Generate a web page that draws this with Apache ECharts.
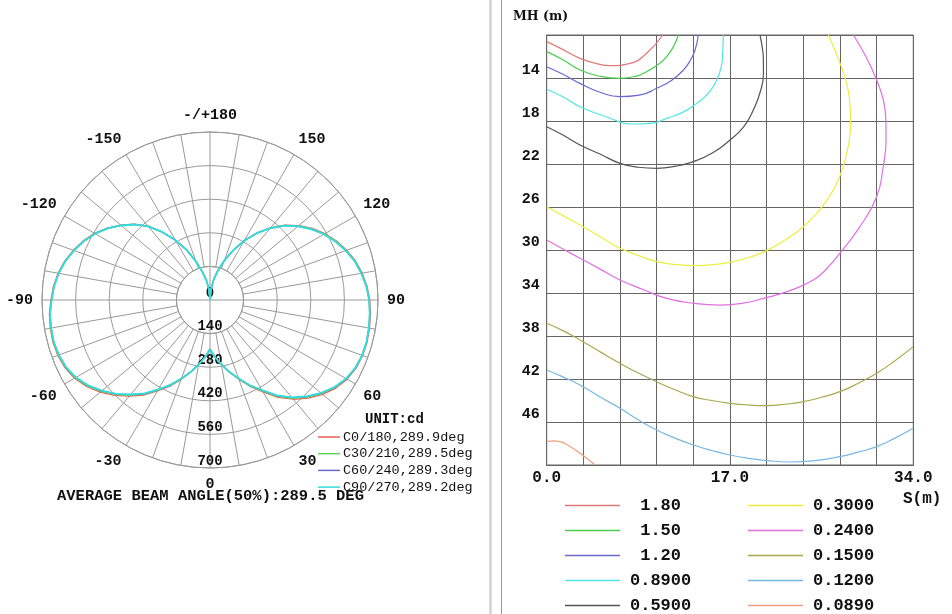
<!DOCTYPE html>
<html>
<head>
<meta charset="utf-8">
<script src="https://cdn.jsdelivr.net/npm/echarts@6/dist/echarts.min.js"></script>
<style>html,body{margin:0;padding:0;background:#fff;}#c{width:952px;height:614px;}</style>
</head>
<body>
<div id="c"></div>
<script>
// ---------- Polar (intensity distribution, cd) ----------
const POLAR_NAMES = ['C0/180,289.9deg', 'C30/210,289.5deg', 'C60/240,289.3deg', 'C90/270,289.2deg'];
// sample angles 0..360 step 5 (0 = nadir, 90 right, 180 top, 270 = -90 left)
const ANGLES = Array.from({length: 73}, (_, i) => i * 5);
const C0 = [203,238,270,312,352,398,442,495,540,578,612,640,660,672,677,678,675,671,666,657,644,628,606,582,553,520,483,442,393,342,286,229,176,128,86,43,0,
            40,80,121,171,231,288,346,402,447,486,523,556,583,606,627,643,655,663,672,676,678,675,667,652,628,597,562,523,484,438,396,352,312,272,238,203];
const C30 = [204,239,271,311,349,395,437,490,535,573,607,636,657,670,675,676,673,669,664,655,642,626,604,580,551,518,481,440,392,341,285,228,175,127,85,42,0,
             40,80,120,170,230,287,345,401,446,484,521,554,581,604,625,641,653,661,670,674,676,672,664,648,624,592,557,518,479,434,392,350,311,273,239,204];
const C60 = [205,240,272,310,347,393,434,486,531,569,604,634,656,669,674,675,672,668,663,654,640,624,602,577,548,515,478,438,390,340,285,228,175,127,85,42,0,
             40,80,120,170,230,287,345,400,445,483,520,553,580,603,624,640,652,660,669,672,674,670,662,645,621,589,554,515,476,431,390,348,310,273,240,205];
const C90 = [205,240,272,310,347,392,433,485,530,568,603,633,655,668,674,675,672,668,663,654,640,624,602,577,548,515,478,438,390,340,285,228,175,127,85,42,0,
             40,80,120,170,230,287,345,400,445,483,520,553,580,603,624,640,652,660,669,672,674,670,662,645,620,588,553,514,475,430,390,348,310,273,240,205];
const POLAR_VALUES = [C0, C30, C60, C90];
const POLAR_COLORS = ['#e8604c', '#5cd65c', '#6a6ac8', '#33dddd'];
const RADIUS_TICKS = [0, 140, 280, 420, 560, 700];

// ---------- Isolux diagram ----------
const ISO_NAMES = ['1.80', '1.50', '1.20', '0.8900', '0.5900', '0.3000', '0.2400', '0.1500', '0.1200', '0.0890'];
const ISO_COLORS = ['#e07878', '#4ccc4c', '#6a6ad0', '#50e6e6', '#555555', '#eeee40', '#e070e0', '#a8a850', '#78b8e0', '#f0a080'];
const ISO_X = [
  [0,1.2,3.09,5.0,5.87,7.73,9.27,10.76],
  [0,1.5,3.09,5.0,6.8,8.2,9.27,10.4,11.13,11.8,12.21],
  [0,1.5,3.09,5,6.8,8.6,10.2,11.6,12.67,13.3,13.76,14.06],
  [0,1.5,3.09,5.5,8.04,9.8,11.13,12.6,13.9,15.0,15.77,16.2,16.32,16.38],
  [0,1.5,3.09,5.0,6.8,8.5,10.2,12.0,13.6,15.4,17.0,18.3,19.16,19.8,20.1,20.1,20.03,19.78],
  [0,1.5,3.09,5.0,6.8,8.5,10.2,12.0,13.9,15.6,17.3,18.9,20.4,22.2,23.8,25.3,26.58,27.3,27.82,28.1,28.19,28.1,27.82,27.2,26.12],
  [0,1.5,3.09,5.0,6.8,9.0,11.13,13.6,16.07,18.2,20.09,22.5,24.73,26.0,27.2,29.0,30.6,31.2,31.47,31.45,31.22,30.6,29.6,28.44],
  [0,1.5,3.09,5.0,6.8,8.5,10.2,11.9,13.6,15.3,17.0,18.7,20.4,22.1,23.8,25.5,27.2,28.9,30.6,32.3,34],
  [0,1.5,3.09,5.0,6.8,8.5,10.2,11.9,13.6,15.3,17.0,18.7,20.4,22.56,24.9,27.2,28.9,30.6,32.3,34],
  [0,0.6,1.24,2.2,3.09,3.8,4.48]
];
const ISO_Y = [
  [10.62,11.2,12.17,12.75,12.85,12.64,11.7,10.0],
  [11.55,12.3,13.26,13.85,14.03,13.85,13.41,12.7,12.02,11.0,10.0],
  [12.95,13.65,14.5,15.35,15.74,15.6,14.96,14.2,13.26,12.4,11.4,10.0],
  [15.05,15.75,16.67,17.6,18.28,18.2,17.75,17.2,16.36,15.4,14.19,12.9,11.7,10.0],
  [18.53,19.3,20.23,21.1,21.94,22.3,22.4,22.2,21.78,20.95,19.77,18.5,16.98,15.3,13.57,12.4,11.4,10.0],
  [25.97,26.8,27.67,28.8,29.84,30.5,31.08,31.35,31.45,31.35,31.08,30.65,30.06,29.0,27.83,26.3,24.42,22.8,21.0,19.5,17.9,16.2,14.5,12.6,10.0],
  [29.07,29.9,30.77,31.8,32.79,33.7,34.5,34.95,35.12,34.95,34.5,33.8,32.79,31.7,30.3,27.9,25.04,22.3,19.77,17.8,16.05,14.19,12.0,10.0],
  [36.82,37.5,38.37,39.5,40.54,41.45,42.25,43.0,43.64,44.0,44.26,44.42,44.48,44.35,44.1,43.7,43.18,42.4,41.47,40.3,38.99],
  [41.16,41.8,42.56,43.7,44.73,45.8,46.74,47.5,48.14,48.65,49.07,49.38,49.59,49.72,49.6,49.22,48.8,48.29,47.5,46.59],
  [47.83,47.75,47.83,48.3,48.91,49.45,50]
];
const X_MIN = 0, X_MAX = 34, X_STEP = 3.4;
const Y_MIN = 10, Y_MAX = 50, Y_STEP = 4;

// ---------- layout ----------
const PC = [210, 300], PR = 168;
const MONO = "'Liberation Mono', 'Courier New', monospace";
const GRID_GRAY = '#9a9a9a';

const chart = echarts.init(document.getElementById('c'), null, {renderer: 'canvas'});

const polarSeries = POLAR_NAMES.map((name, k) => ({
  name, type: 'line', coordinateSystem: 'polar', polarIndex: 0,
  symbol: 'none', smooth: false, z: 4,
  lineStyle: {color: POLAR_COLORS[k], width: k === 3 ? 1.8 : 1.2},
  itemStyle: {color: POLAR_COLORS[k]},
  data: POLAR_VALUES[k].map((r, i) => [r, ANGLES[i]])
}));

const isoSeries = ISO_NAMES.map((name, k) => ({
  name, type: 'line', xAxisIndex: 0, yAxisIndex: 0,
  symbol: 'none', smooth: true, z: 4,
  lineStyle: {color: ISO_COLORS[k], width: 1.2},
  itemStyle: {color: ISO_COLORS[k]},
  data: ISO_X[k].map((x, i) => [x, ISO_Y[k][i]])
}));

const angleLabel = v => {
  if (v % 30 !== 0 || v === 360) return '';
  if (v === 180) return '-/+180';
  return v < 180 ? String(v) : String(v - 360);
};

const isoLegend = (names, left, fmt) => ({
  data: names, orient: 'vertical', left, top: 497, height: 140, padding: 0,
  itemWidth: 55, itemHeight: 1.5, itemGap: 8, icon: 'rect', selectedMode: false,
  formatter: fmt,
  textStyle: {fontFamily: MONO, fontSize: 17, fontWeight: 'bold', color: '#111', lineHeight: 17, padding: [0, 0, 0, 5]}
});

const option = {
  backgroundColor: '#fff',
  animation: false,
  title: [
    {text: 'UNIT:cd', left: 365, top: 412, padding: 0,
     textStyle: {fontFamily: MONO, fontSize: 14, fontWeight: 'bold', color: '#111'}},
    {text: 'AVERAGE BEAM ANGLE(50%):289.5 DEG', left: 57, top: 488, padding: 0,
     textStyle: {fontFamily: MONO, fontSize: 15.5, fontWeight: 'bold', color: '#111'}},
    {text: 'MH (m)', left: 513, top: 10, padding: 0,
     textStyle: {fontFamily: "'DejaVu Serif', serif", fontSize: 12.5, fontWeight: 'bold', color: '#111'}},
    {text: 'S(m)', left: 903, top: 491, padding: 0,
     textStyle: {fontFamily: MONO, fontSize: 16, fontWeight: 'bold', color: '#111'}}
  ],
  legend: [
    {data: POLAR_NAMES, orient: 'vertical', left: 318, top: 430, padding: 0,
     itemWidth: 22, itemHeight: 1.5, itemGap: 2.7, icon: 'rect', selectedMode: false,
     textStyle: {fontFamily: MONO, fontSize: 13.5, color: '#111', lineHeight: 14, padding: [0, 0, 0, -2]}},
    isoLegend(ISO_NAMES.slice(0, 5), 565, n => n.length < 5 ? ' ' + n : n),
    isoLegend(ISO_NAMES.slice(5), 748, n => n)
  ],
  polar: [
    {center: PC, radius: PR},
    {center: PC, radius: PR / 5}
  ],
  angleAxis: [
    {polarIndex: 0, type: 'value', min: 0, max: 360, interval: 10, startAngle: 270, clockwise: false, z: 0,
     axisLine: {show: true, lineStyle: {color: GRID_GRAY, width: 1}},
     axisTick: {show: false},
     axisLabel: {formatter: angleLabel, margin: 9, fontFamily: MONO, fontSize: 15, fontWeight: 'bold', color: '#111'},
     splitLine: {show: true, lineStyle: {color: GRID_GRAY, width: 1}}},
    {polarIndex: 1, type: 'value', min: 0, max: 360, interval: 90, startAngle: 270, clockwise: false, z: 2,
     axisLine: {show: false}, axisTick: {show: false}, axisLabel: {show: false},
     splitLine: {show: true, lineStyle: {color: GRID_GRAY, width: 1}}}
  ],
  radiusAxis: [
    {polarIndex: 0, type: 'value', min: RADIUS_TICKS[0], max: RADIUS_TICKS[RADIUS_TICKS.length - 1], interval: RADIUS_TICKS[1] - RADIUS_TICKS[0], z: 3,
     axisLine: {show: false}, axisTick: {show: false},
     axisLabel: {margin: 0, align: 'center', verticalAlign: 'bottom', fontFamily: MONO, fontSize: 14, fontWeight: 'bold', color: '#111'},
     splitLine: {show: true, lineStyle: {color: GRID_GRAY, width: 1}}},
    {polarIndex: 1, type: 'value', min: 0, max: 1, show: false}
  ],
  grid: {left: 546.7, right: 38.7, top: 35, bottom: 149, show: true, borderColor: '#666', borderWidth: 1, backgroundColor: 'transparent'},
  xAxis: {type: 'value', min: X_MIN, max: X_MAX, interval: X_STEP,
    axisLine: {show: true, lineStyle: {color: '#666'}}, axisTick: {show: false},
    axisLabel: {margin: 5, fontFamily: MONO, fontSize: 16, fontWeight: 'bold', color: '#111',
      formatter: v => { const r = Math.round(v * 10) / 10; return Math.abs(r % 17) < 1e-6 ? r.toFixed(1) : ''; }},
    splitLine: {show: true, lineStyle: {color: '#666', width: 1}}},
  yAxis: {type: 'value', inverse: true, min: Y_MIN, max: Y_MAX, interval: Y_STEP,
    axisLine: {show: true, lineStyle: {color: '#666'}}, axisTick: {show: false},
    axisLabel: {margin: 7, verticalAlign: 'bottom', fontFamily: MONO, fontSize: 15, fontWeight: 'bold', color: '#111',
      formatter: v => (v === Y_MIN || v === Y_MAX) ? '' : String(v)},
    splitLine: {show: true, lineStyle: {color: '#666', width: 1}}},
  graphic: {elements: [
    {type: 'circle', z: 1, silent: true, shape: {cx: PC[0], cy: PC[1], r: PR / 5},
     style: {fill: '#fff', stroke: GRID_GRAY, lineWidth: 1}},
    {type: 'line', z: 1, silent: true, shape: {x1: 490.5, y1: 0, x2: 490.5, y2: 614},
     style: {stroke: '#d0d0d0', lineWidth: 2.5}},
    {type: 'line', z: 1, silent: true, shape: {x1: 501.5, y1: 0, x2: 501.5, y2: 614},
     style: {stroke: '#999', lineWidth: 1}}
  ]},
  series: polarSeries.concat(isoSeries)
};
chart.setOption(option);
</script>
</body>
</html>
